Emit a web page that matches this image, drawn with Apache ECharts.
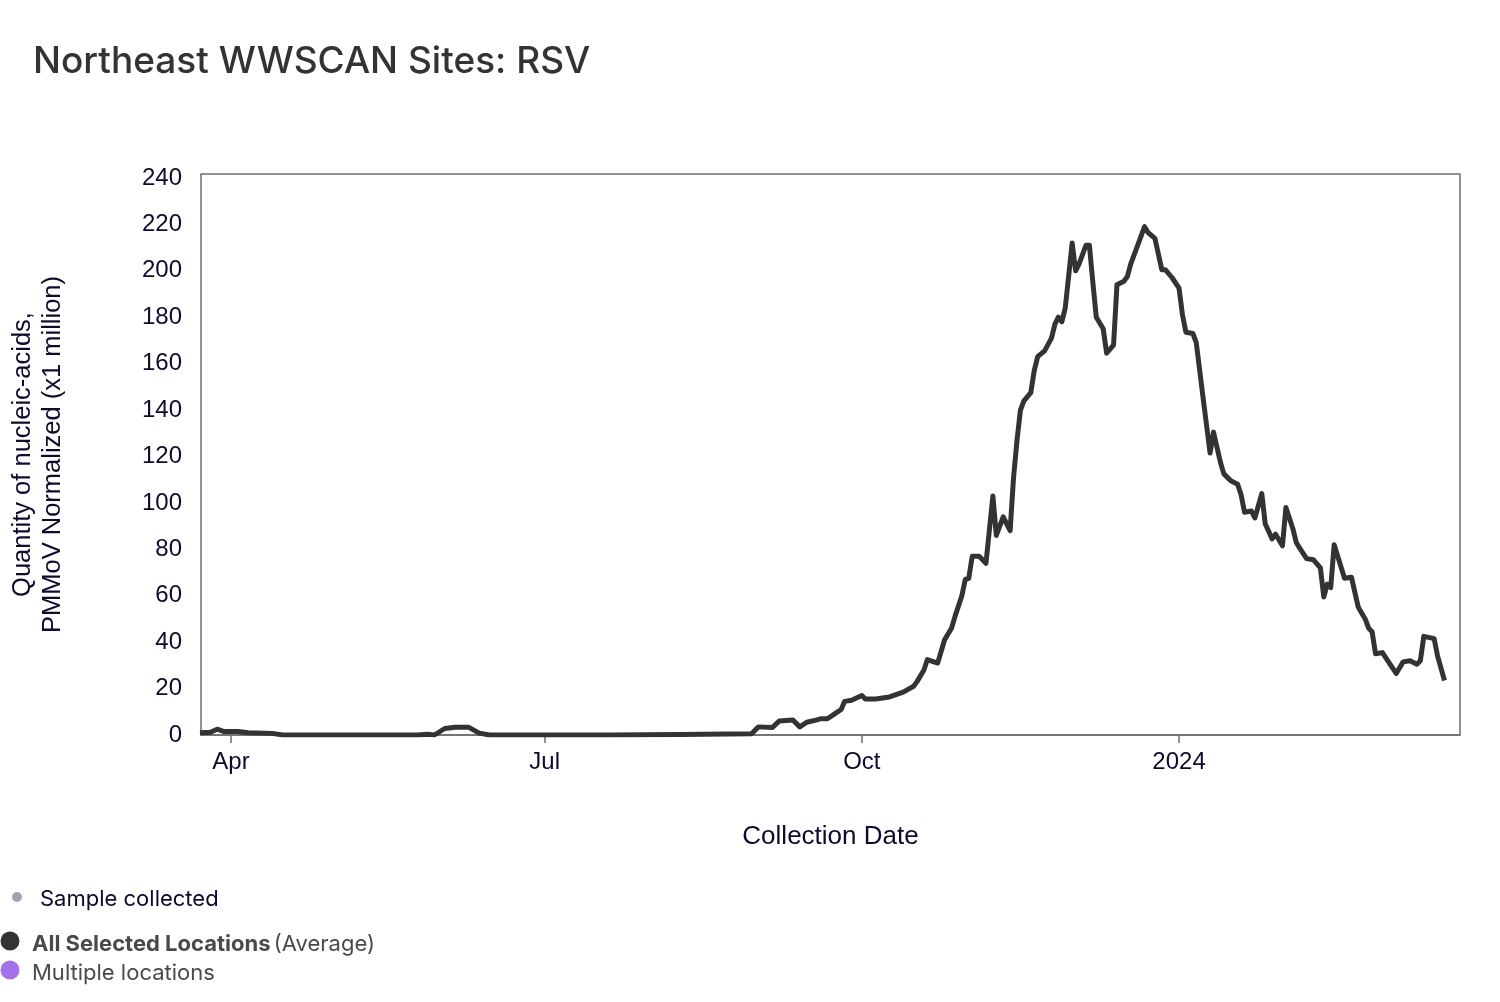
<!DOCTYPE html>
<html>
<head>
<meta charset="utf-8">
<script src="https://cdn.jsdelivr.net/npm/echarts@6/dist/echarts.min.js"></script>
<style>
  html, body { margin: 0; padding: 0; background: #fff; }
  #main { width: 1500px; height: 1002px; }
</style>
</head>
<body>
<div id="main"></div>
<script>
// collection dates and averaged values (x1 million)
var dates = [
  '2023-03-23','2023-03-26','2023-03-28','2023-03-30','2023-04-03','2023-04-06','2023-04-13','2023-04-16',
  '2023-05-01','2023-05-15','2023-05-25','2023-05-28','2023-05-30','2023-06-02','2023-06-05','2023-06-09',
  '2023-06-12','2023-06-15','2023-07-01','2023-07-20','2023-08-09','2023-08-30','2023-09-01','2023-09-05',
  '2023-09-07','2023-09-11','2023-09-13','2023-09-15','2023-09-18','2023-09-19','2023-09-21','2023-09-23',
  '2023-09-25','2023-09-26','2023-09-28','2023-10-01','2023-10-02','2023-10-05','2023-10-09','2023-10-13',
  '2023-10-16','2023-10-17','2023-10-19','2023-10-20','2023-10-23','2023-10-25','2023-10-27','2023-10-28',
  '2023-10-30','2023-10-31','2023-11-01','2023-11-02','2023-11-04','2023-11-06','2023-11-08','2023-11-09',
  '2023-11-11','2023-11-13','2023-11-14','2023-11-15','2023-11-16','2023-11-17','2023-11-19','2023-11-20',
  '2023-11-21','2023-11-23','2023-11-25','2023-11-26','2023-11-27','2023-11-28','2023-11-29','2023-12-01',
  '2023-12-02','2023-12-03','2023-12-05','2023-12-06','2023-12-07','2023-12-08','2023-12-10','2023-12-11',
  '2023-12-13','2023-12-14','2023-12-16','2023-12-17','2023-12-18','2023-12-20','2023-12-22','2023-12-23',
  '2023-12-25','2023-12-27','2023-12-28','2023-12-30','2024-01-01','2024-01-02','2024-01-03','2024-01-05',
  '2024-01-06','2024-01-08','2024-01-10','2024-01-11','2024-01-13','2024-01-14','2024-01-16','2024-01-18',
  '2024-01-19','2024-01-20','2024-01-22','2024-01-23','2024-01-25','2024-01-26','2024-01-28','2024-01-29',
  '2024-01-31','2024-02-01','2024-02-03','2024-02-04','2024-02-05','2024-02-07','2024-02-09','2024-02-11',
  '2024-02-12','2024-02-13','2024-02-14','2024-02-15','2024-02-18','2024-02-20','2024-02-22','2024-02-24',
  '2024-02-25','2024-02-26','2024-02-27','2024-02-29','2024-03-02','2024-03-04','2024-03-06','2024-03-08',
  '2024-03-10','2024-03-11','2024-03-12','2024-03-15','2024-03-16','2024-03-18'
];
var values = [
  1, 1.2, 2.5, 1.5, 1.5, 1, 0.7, 0,
  0, 0, 0, 0.3, 0, 2.8, 3.3, 3.3,
  0.8, 0, 0, 0, 0.2, 0.5, 3.5, 3.2,
  6, 6.5, 3.5, 5.5, 6.5, 7, 7, 9,
  11, 14.5, 15, 17, 15.5, 15.5, 16.4, 18.5,
  21, 23, 28, 32.5, 31, 41, 46, 51,
  60, 67, 67.5, 77, 77, 74, 103, 86,
  94, 88, 111, 127, 140, 144, 147.5, 157,
  163, 165.5, 171, 177, 180, 178, 184, 212,
  200, 203, 211, 211, 195, 180, 175, 164.5,
  168, 194, 195.5, 197.5, 203, 211, 219, 216.5,
  214, 200.5, 200.5, 197, 192.5, 181, 173.5, 173,
  169, 145, 121.5, 130.5, 117.5, 112.5, 109.5, 108,
  103.5, 96, 96.5, 93.5, 104, 91, 84.5, 86.5,
  81.5, 98, 89, 83, 80.5, 76, 75.5, 72,
  59.5, 65, 63.5, 82, 67.5, 68, 55, 50,
  46, 44.5, 35, 35.5, 31, 26.5, 31.5, 32,
  30.5, 32, 42.5, 41.5, 34, 23.5
];
var tickDates = ['2023-04-01', '2023-07-01', '2023-10-01', '2024-01-01'];
var tickLabels = ['Apr', 'Jul', 'Oct', '2024'];
var yTicks = [0, 20, 40, 60, 80, 100, 120, 140, 160, 180, 200, 220, 240];

function ts(d) { return Date.UTC(+d.slice(0, 4), +d.slice(5, 7) - 1, +d.slice(8, 10)); }
var DAY = 86400000;
var tickValues = tickDates.map(ts);
var seriesData = dates.map(function (d, i) { return [ts(d), values[i]]; });

var myChart = echarts.init(document.getElementById('main'));

var axisFont = 'Liberation Sans, Arial, Helvetica, sans-serif';
var uiFont = 'Inter, "Noto Sans", sans-serif';
var navy = '#0d0b2e';

option = {
    backgroundColor: '#fff',
    animation: false,
    title: {
        text: 'Northeast WWSCAN Sites: RSV',
        left: 28,
        top: 38,
        textStyle: { fontFamily: uiFont, fontSize: 37, fontWeight: 500, color: '#333' }
    },
    grid: {
        left: 201, top: 174, right: 40, bottom: 267,
        containLabel: false,
        outerBoundsMode: 'none',
        show: true,
        borderColor: '#6e6e6e',
        borderWidth: 1.5
    },
    xAxis: {
        type: 'value',
        min: ts('2023-03-23') + DAY * 0.3,
        max: ts('2024-03-22') + DAY / 2,
        name: 'Collection Date',
        nameLocation: 'middle',
        nameGap: 89,
        nameTextStyle: { fontFamily: axisFont, fontSize: 26, color: navy },
        axisLine: { show: true, lineStyle: { color: '#6e6e6e', width: 1.5 } },
        axisTick: {
            show: true, length: 8, inside: false,
            customValues: tickValues,
            lineStyle: { color: '#6e6e6e', width: 1.5 }
        },
        axisLabel: {
            customValues: tickValues,
            margin: 15,
            fontFamily: axisFont, fontSize: 24, color: navy,
            formatter: function (v) {
                var i = tickValues.indexOf(+v);
                return i >= 0 ? tickLabels[i] : '';
            }
        },
        splitLine: { show: false }
    },
    yAxis: {
        type: 'value',
        min: 0,
        max: 241.7,
        name: 'Quantity of nucleic-acids,\nPMMoV Normalized (x1 million)',
        nameLocation: 'middle',
        nameRotate: 90,
        nameGap: 133,
        nameTextStyle: { fontFamily: axisFont, fontSize: 25.5, color: navy, lineHeight: 30 },
        axisLine: { show: false },
        axisTick: { show: false },
        axisLabel: { customValues: yTicks, margin: 19, fontFamily: axisFont, fontSize: 24, color: navy },
        splitLine: { show: false }
    },
    series: [{
        name: 'All Selected Locations',
        type: 'line',
        data: seriesData,
        showSymbol: false,
        symbol: 'none',
        lineStyle: { color: '#333333', width: 5, join: 'round' }
    }],
    graphic: [
        { type: 'circle', shape: { cx: 17, cy: 897, r: 5 }, style: { fill: '#9ea3ae' } },
        { type: 'text', left: 40, top: 888,
          style: { text: 'Sample collected', font: '22px ' + uiFont, fill: navy } },
        { type: 'circle', shape: { cx: 10, cy: 941, r: 9.5 }, style: { fill: '#333333' } },
        { type: 'text', left: 32, top: 933,
          style: {
            text: '{b|All Selected Locations} {n|(Average)}',
            rich: {
                b: { fontFamily: uiFont, fontSize: 22, fontWeight: 'bold', fill: '#4a4a4a' },
                n: { fontFamily: uiFont, fontSize: 22, fill: '#4a4a4a' }
            }
          } },
        { type: 'circle', shape: { cx: 10, cy: 970, r: 9.5 }, style: { fill: '#a371ea' } },
        { type: 'text', left: 32, top: 962,
          style: { text: 'Multiple locations', font: '22px ' + uiFont, fill: '#4a4a4a' } }
    ]
};

myChart.setOption(option);
</script>
</body>
</html>
